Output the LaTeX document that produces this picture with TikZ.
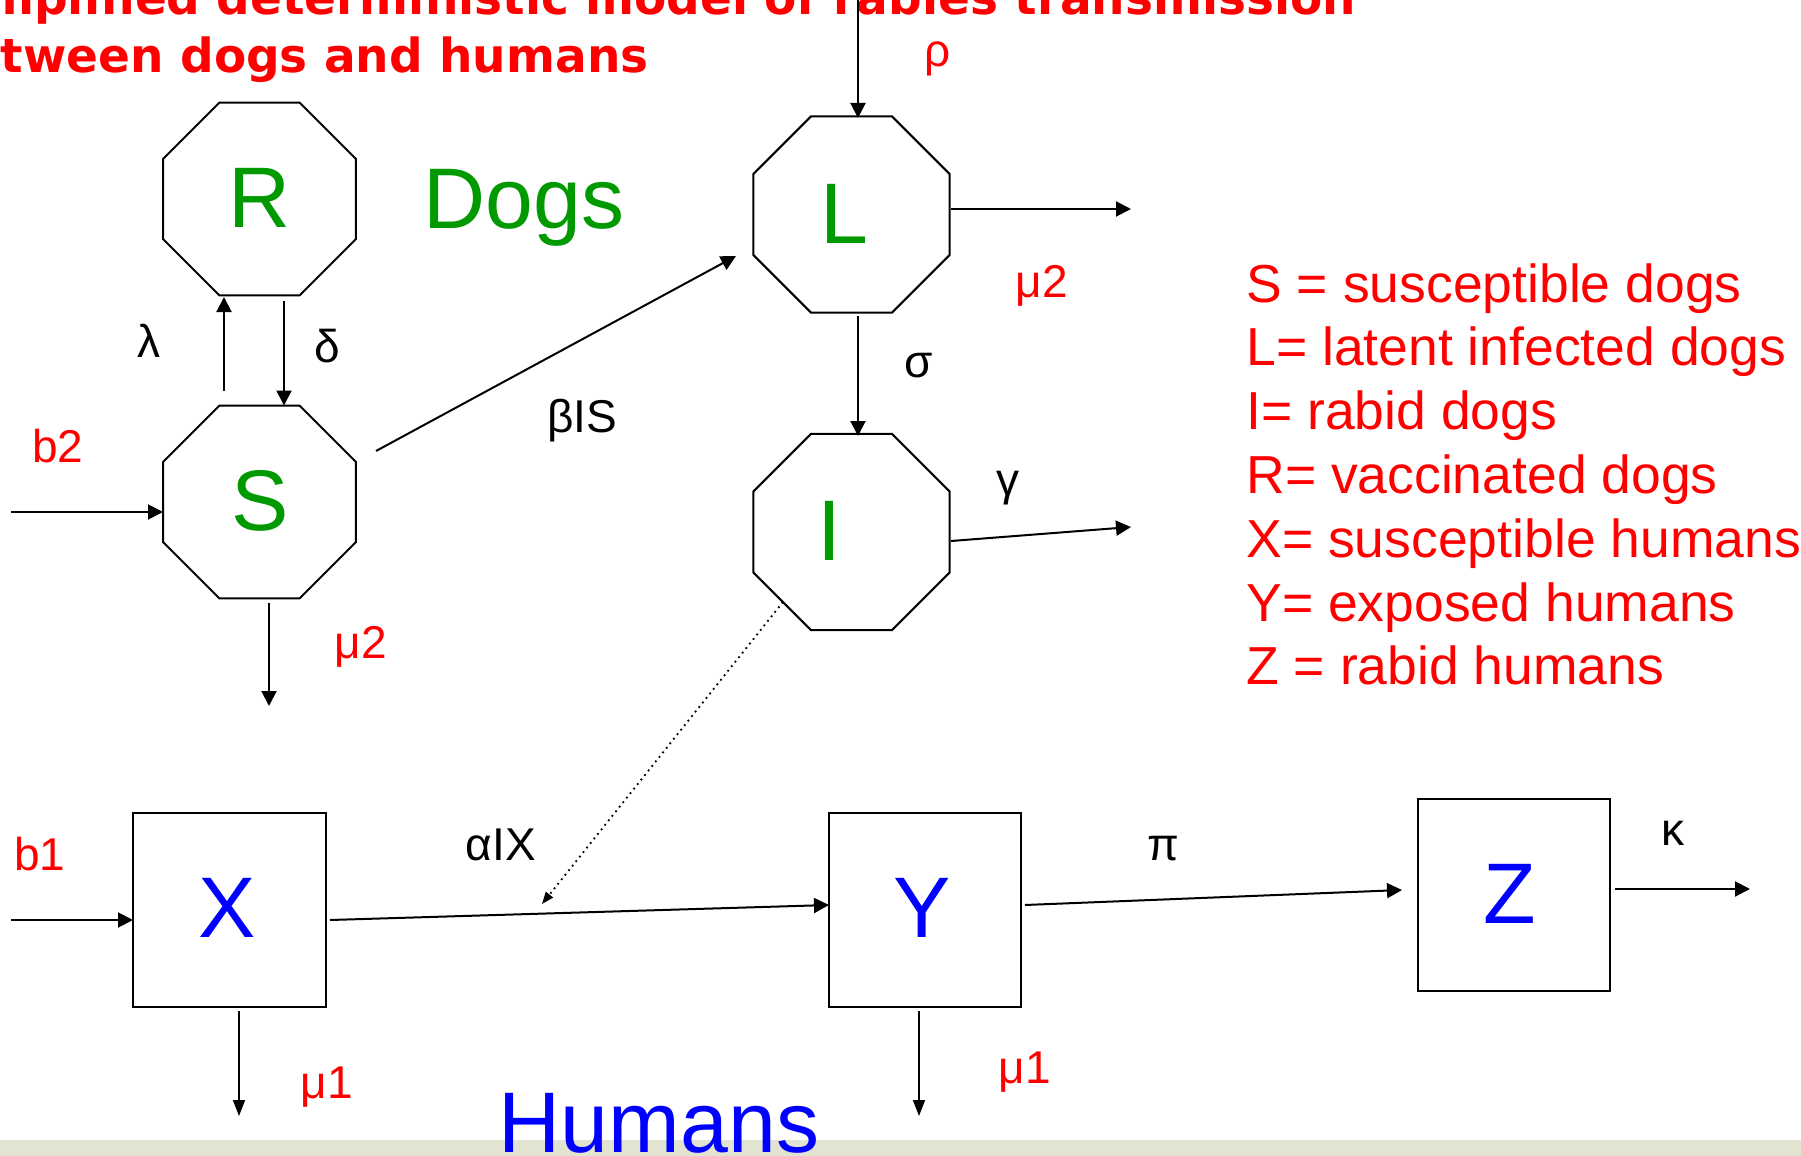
\documentclass[tikz,border=0pt]{standalone}
\usepackage{fontspec}
\setmainfont{Liberation Sans}
\newfontfamily\titlefont{DejaVu Sans}
\usetikzlibrary{arrows.meta,shapes.geometric}
\definecolor{dgreen}{RGB}{0,153,0}
\definecolor{stripc}{RGB}{227,227,209}
\begin{document}
\begin{tikzpicture}[x=0.5pt,y=-0.5pt,
  oct/.style={draw, line width=1pt, regular polygon, regular polygon sides=8, inner sep=0pt, outer sep=0pt},
  box/.style={draw, line width=1pt, rectangle, inner sep=0pt, outer sep=0pt},
  big/.style={font=\fontsize{43pt}{50pt}\selectfont, inner sep=0pt, anchor=base},
  lab/.style={font=\fontsize{23pt}{27pt}\selectfont, inner sep=0pt, anchor=base},
  leg/.style={font=\fontsize{26.75pt}{32pt}\selectfont, inner sep=0pt, anchor=base west, text=red},
  ttl/.style={font=\titlefont\bfseries\fontsize{23.5pt}{28pt}\selectfont, inner sep=0pt, anchor=base west, text=red},
  arr/.style={line width=1pt, -{Triangle[length=7.5pt,width=7.5pt]}},
  arrthin/.style={line width=0.8pt, -{Triangle[length=8pt,width=6pt]}},
  dotarr/.style={line width=0.9pt, dotted, -{Triangle[length=6pt,width=4.5pt]}}
]
\useasboundingbox (0,0) rectangle (1801,1156);
\clip (0,0) rectangle (1801,1156);
\fill[stripc] (0,1140) rectangle (1801,1156);

% title
\node[ttl] (t1) at (-65,15) {Simplified deterministic model of rabies transmission};
\node[ttl] (t2) at (-65,72.5) {between dogs and humans};

% dog compartments
\node[oct, minimum size=104.45pt] (R) at (259.5,199) {};
\node[oct, minimum size=104.45pt] (S) at (259.5,502) {};
\node[oct, minimum size=106.1pt] (L) at (851.5,214.5) {};
\node[oct, minimum size=106.1pt] (I) at (851.5,532) {};
\node[big, text=dgreen] (Rt) at (260,227.5) {R};
\node[big, text=dgreen] (St) at (260,530) {S};
\node[big, text=dgreen] (Lt) at (844,243) {L};
\node[big, text=dgreen] (It) at (829.5,560) {I};
\node[big, text=dgreen] (dogs) at (524,228) {Dogs};

% human compartments
\node[box, minimum width=96.5pt, minimum height=97pt] (X) at (229.5,910) {};
\node[box, minimum width=96pt, minimum height=97pt] (Y) at (925,910) {};
\node[box, minimum width=96pt, minimum height=96pt] (Z) at (1514,895) {};
\node[big, text=blue] (Xt) at (227,937) {X};
\node[big, text=blue] (Yt) at (922,937) {Y};
\node[big, text=blue] (Zt) at (1510,923) {Z};
\node[big, text=blue] (humans) at (659,1152) {Humans};

% free ends
\coordinate (b2in) at (11,512);
\coordinate (Sout) at (269,706);
\coordinate (rhoin) at (858,0);
\coordinate (Lout) at (1131,209);
\coordinate (Iout) at (1131,527);
\coordinate (dotend) at (542,904);
\coordinate (b1in) at (11,920);
\coordinate (Zout) at (1750,889);
\coordinate (Xout) at (239,1116);
\coordinate (Yout) at (919,1116);

% connectors
\draw[arr] ([shift={(-35.5,-111)}]S.center) -- ([shift={(-35.5,98)}]R.center);
\draw[arr] ([shift={(24.5,102)}]R.center) -- ([shift={(24.5,-96.5)}]S.center);
\draw[arr] (b2in) -- ([shift={(-96.5,10)}]S.center);
\draw[arr] ([shift={(9.5,101)}]S.center) -- (Sout);
\draw[arr] ([shift={(116.5,-51)}]S.center) -- ([shift={(-115.5,41.5)}]L.center);
\draw[arr] (rhoin) -- ([shift={(6.5,-96.5)}]L.center);
\draw[arr] ([shift={(99.5,-5.5)}]L.center) -- (Lout);
\draw[arr] ([shift={(6.5,101.5)}]L.center) -- ([shift={(6.5,-96)}]I.center);
\draw[arr] ([shift={(99.5,9)}]I.center) -- (Iout);
\draw[dotarr] ([shift={(-68.5,70)}]I.center) -- (dotend);
\draw[arr] (b1in) -- ([shift={(-96.5,10)}]X.center);
\draw[arr] ([shift={(100.5,10)}]X.center) -- ([shift={(-96,-5)}]Y.center);
\draw[arr] ([shift={(100,-5)}]Y.center) -- ([shift={(-112,-5)}]Z.center);
\draw[arr] ([shift={(101,-6)}]Z.center) -- (Zout);
\draw[arrthin] ([shift={(9.5,101)}]X.center) -- (Xout);
\draw[arrthin] ([shift={(-6,101)}]Y.center) -- (Yout);

% rate labels
\node[lab, text=red] (lb2) at (58,462) {b2};
\node[lab] (llam) at (149,357) {λ};
\node[lab] (ldel) at (327,362) {δ};
\node[lab, text=red] (lmuS) at (361,658) {μ2};
\node[lab] (lbeta) at (582,432) {βIS};
\node[lab, text=red] (lrho) at (938,67) {ρ};
\node[lab, text=red] (lmuL) at (1042,297) {μ2};
\node[lab] (lsig) at (919,377) {σ};
\node[lab] (lgam) at (1008,495) {γ};
\node[lab, text=red] (lb1) at (40,870) {b1};
\node[lab] (lalpha) at (501,860) {αIX};
\node[lab] (lpi) at (1163,860) {π};
\node[lab] (lkap) at (1673,845) {κ};
\node[lab, text=red] (lmuX) at (327,1098) {μ1};
\node[lab, text=red] (lmuY) at (1025,1083) {μ1};

% legend
\node[leg] (g1) at (1246,302) {S = susceptible dogs};
\node[leg] (g2) at (1246,365.8) {L= latent infected dogs};
\node[leg] (g3) at (1246,429.6) {I= rabid dogs};
\node[leg] (g4) at (1246,493.4) {R= vaccinated dogs};
\node[leg] (g5) at (1246,557.2) {X= susceptible humans};
\node[leg] (g6) at (1246,621) {Y= exposed humans};
\node[leg] (g7) at (1246,684.8) {Z = rabid humans};
\end{tikzpicture}
\end{document}
